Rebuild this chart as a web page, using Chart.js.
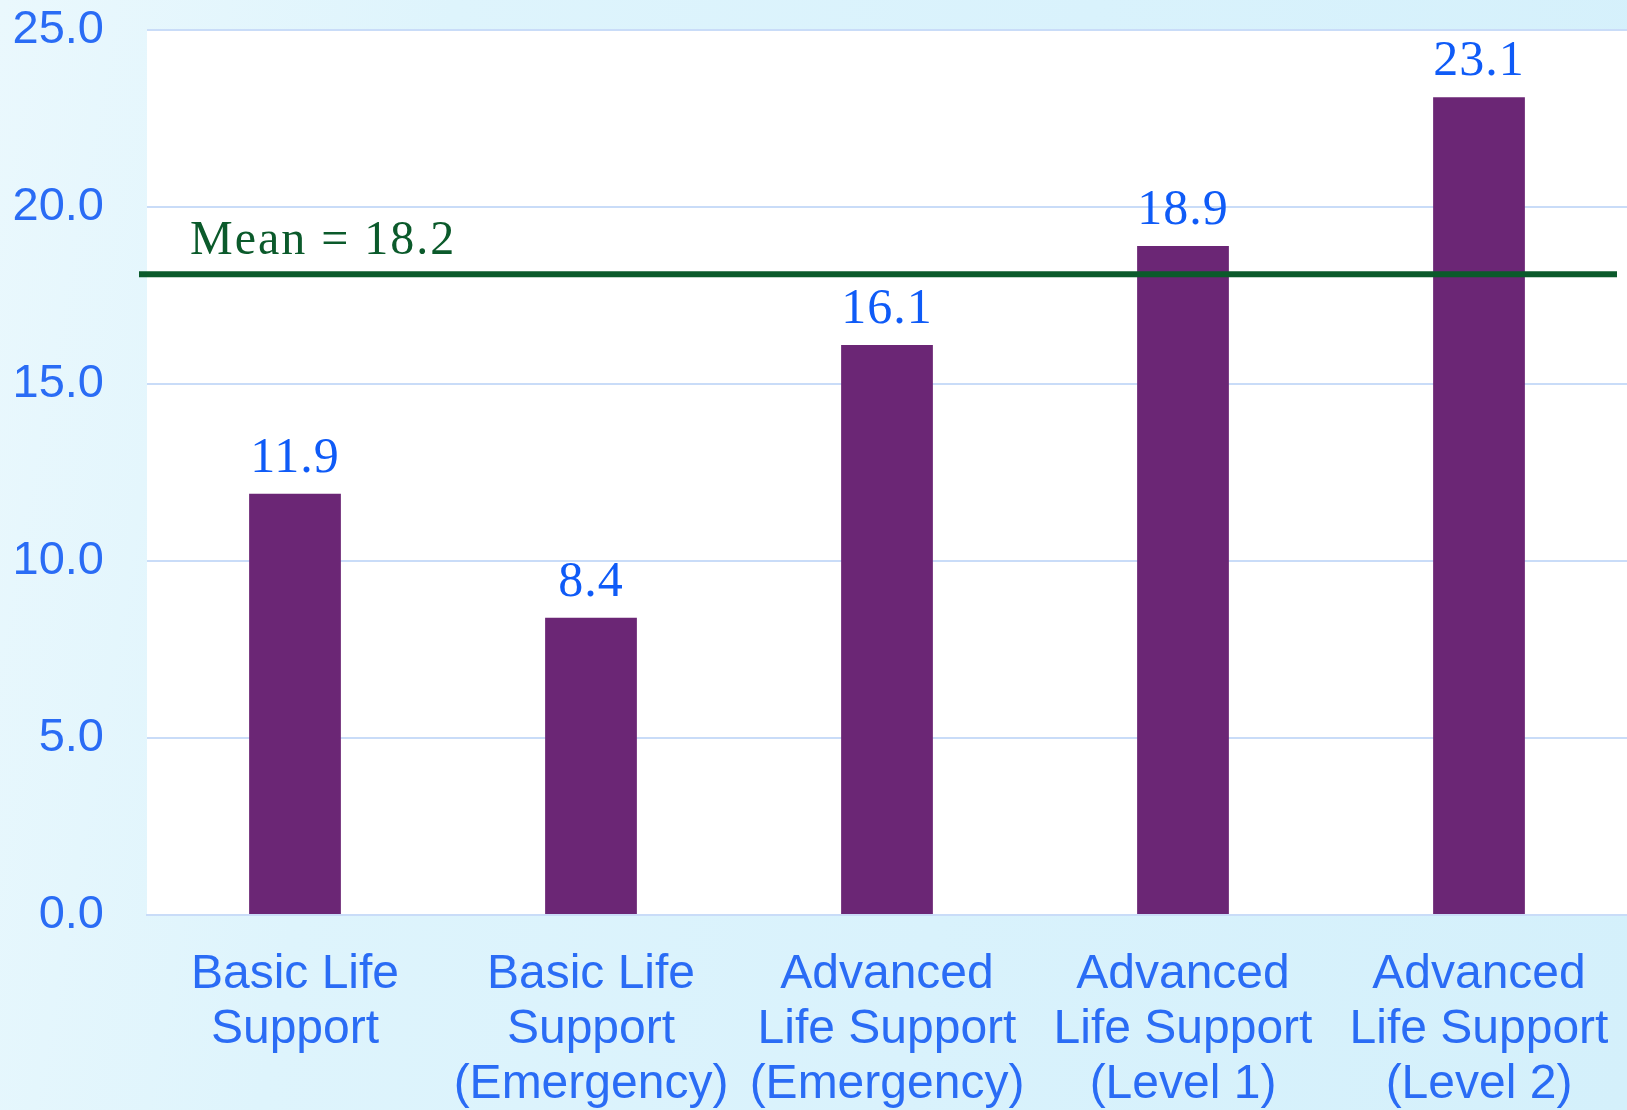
<!DOCTYPE html>
<html>
<head>
<meta charset="utf-8">
<script src="https://cdn.jsdelivr.net/npm/chart.js"></script>
<style>
  html, body { margin: 0; padding: 0; }
  body {
    width: 1627px; height: 1110px; overflow: hidden;
    background: linear-gradient(100deg, #eaf8fd 0%, #def4fc 25%, #d9f2fc 60%, #d4f0fb 100%);
  }
  #wrap { position: relative; width: 1627px; height: 1110px; }
</style>
</head>
<body>
<div id="wrap"><canvas id="chart"></canvas></div>
<script>
// categorias y valores
const categories = [
  ['Basic Life', 'Support'],
  ['Basic Life', 'Support', '(Emergency)'],
  ['Advanced', 'Life Support', '(Emergency)'],
  ['Advanced', 'Life Support', '(Level 1)'],
  ['Advanced', 'Life Support', '(Level 2)']
];
const values = [11.9, 8.4, 16.1, 18.9, 23.1];
const meanLine = [18.1];
const meanText = ['Mean = 18.2'];
const yTicks = [0, 5, 10, 15, 20, 25];

// fondo blanco del area del grafico
const plotBg = {
  id: 'plotBg',
  beforeDraw(chart) {
    const { ctx, chartArea: a } = chart;
    ctx.save();
    ctx.fillStyle = '#ffffff';
    ctx.fillRect(a.left, a.top, a.right - a.left, a.bottom - a.top);
    ctx.restore();
  }
};

// etiquetas de valor y linea de media
const overlays = {
  id: 'overlays',
  afterDatasetsDraw(chart) {
    const { ctx, chartArea: a } = chart;
    const y = chart.scales.y;
    const meta = chart.getDatasetMeta(0);
    ctx.save();
    ctx.font = '50px "Liberation Serif"';
    ctx.fillStyle = '#0f5bf7';
    ctx.textAlign = 'center';
    ctx.textBaseline = 'alphabetic';
    ctx.letterSpacing = '1px';
    meta.data.forEach((bar, i) => {
      ctx.fillText(values[i].toFixed(1), bar.x, bar.y - 22);
    });

    const my = y.getPixelForValue(meanLine[0]);
    ctx.strokeStyle = '#0b5a2b';
    ctx.lineWidth = 6;
    ctx.beginPath();
    ctx.moveTo(a.left - 8, my);
    ctx.lineTo(a.right - 10, my);
    ctx.stroke();

    ctx.font = '48px "Liberation Serif"';
    ctx.fillStyle = '#0b5a2b';
    ctx.textAlign = 'left';
    ctx.letterSpacing = '2px';
    ctx.fillText(meanText[0], a.left + 43, my - 20);
    ctx.restore();
  }
};

new Chart(document.getElementById('chart'), {
  type: 'bar',
  data: {
    labels: categories,
    datasets: [{
      data: values,
      backgroundColor: '#6b2675',
      borderWidth: 0,
      categoryPercentage: 1,
      barPercentage: 0.31
    }]
  },
  options: {
    responsive: true,
    maintainAspectRatio: false,
    animation: false,
    layout: { padding: { top: 30, right: -3, left: 0, bottom: 0 } },
    plugins: {
      legend: { display: false },
      tooltip: { enabled: false }
    },
    scales: {
      x: {
        grid: { display: false, drawTicks: false },
        border: { display: true, color: '#c9dcf8', width: 2 },
        ticks: {
          color: '#2a6cf5',
          font: { family: '"Liberation Sans"', size: 48, lineHeight: 1.15 },
          padding: 32,
          maxRotation: 0,
          autoSkip: false
        },
        afterFit(scale) {
          scale.height = 195;
          scale.paddingLeft = 0;
          scale.paddingRight = 0;
        }
      },
      y: {
        min: 0,
        max: 25,
        afterBuildTicks(scale) { scale.ticks = yTicks.map(v => ({ value: v })); },
        grid: { color: '#c9dcf8', lineWidth: 2, drawTicks: false },
        border: { display: false },
        ticks: {
          color: '#2a6cf5',
          font: { family: '"Liberation Sans"', size: 47 },
          padding: 43,
          callback: v => v.toFixed(1)
        },
        afterFit(scale) {
          scale.width = 147;
          scale.paddingTop = 0;
          scale.paddingBottom = 0;
        }
      }
    }
  },
  plugins: [plotBg, overlays]
});
</script>
</body>
</html>
